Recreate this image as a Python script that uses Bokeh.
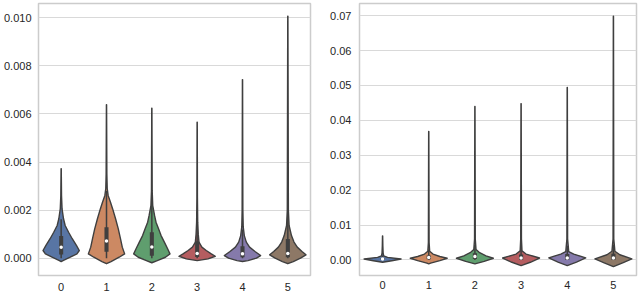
from bokeh.plotting import figure
from bokeh.layouts import row
from bokeh.models import Range1d, FixedTicker, ColumnDataSource
from bokeh.embed import file_html
from bokeh.resources import INLINE

# ---------------- data ----------------
categories = ["0", "1", "2", "3", "4", "5"]
colors = ["#5875a4", "#cc8963", "#5f9e6e", "#b55d60", "#857aab", "#8d7866"]

left_ticks = [0.000, 0.002, 0.004, 0.006, 0.008, 0.010]
left_tick_labels = ["0.000", "0.002", "0.004", "0.006", "0.008", "0.010"]
right_ticks = [0.00, 0.01, 0.02, 0.03, 0.04, 0.05, 0.06, 0.07]
right_tick_labels = ["0.00", "0.01", "0.02", "0.03", "0.04", "0.05", "0.06", "0.07"]

# left panel violin profiles: values and relative half-widths (density shape)
left_values = [
    [-0.00014, -0.0001, 0.00004, 0.00018, 0.00032, 0.00053, 0.00081, 0.00108, 0.00136, 0.00164, 0.00205, 0.0026, 0.00372],
    [-0.00023, -0.00014, 0.00004, 0.00018, 0.00046, 0.00081, 0.00122, 0.00164, 0.00205, 0.00233, 0.00261, 0.0029, 0.0035, 0.00638],
    [-0.00019, -0.0001, 0.00004, 0.00018, 0.00039, 0.00067, 0.00094, 0.00122, 0.0015, 0.00178, 0.00219, 0.0028, 0.00624],
    [-0.0001, -0.00003, 0.00008, 0.00018, 0.00032, 0.00046, 0.00067, 0.001, 0.0015, 0.0025, 0.00566],
    [-0.00014, -0.0001, 0.0, 0.00011, 0.00028, 0.00046, 0.00067, 0.00094, 0.0013, 0.002, 0.00743],
    [-0.00023, -0.00014, 0.0, 0.00014, 0.00028, 0.00046, 0.00067, 0.00094, 0.00136, 0.002, 0.01007],
]
left_widths = [
    [0.0, 0.1, 0.5, 0.87, 1.0, 0.84, 0.61, 0.41, 0.22, 0.13, 0.05, 0.02, 0.005],
    [0.0, 0.25, 0.7, 1.0, 0.87, 0.77, 0.65, 0.5, 0.34, 0.22, 0.09, 0.04, 0.02, 0.005],
    [0.0, 0.3, 0.75, 1.0, 0.87, 0.69, 0.51, 0.37, 0.23, 0.15, 0.05, 0.02, 0.005],
    [0.0, 0.6, 1.0, 0.78, 0.5, 0.26, 0.1, 0.06, 0.03, 0.015, 0.005],
    [0.0, 0.3, 0.77, 1.0, 0.69, 0.39, 0.21, 0.1, 0.04, 0.02, 0.005],
    [0.0, 0.3, 0.7, 1.0, 0.78, 0.52, 0.34, 0.2, 0.07, 0.03, 0.005],
]
left_q1 = [0.00015, 0.00027, 0.00010, 0.00005, 0.00004, 0.00004]
left_median = [0.00045, 0.00072, 0.00047, 0.00020, 0.00018, 0.00020]
left_q3 = [0.00092, 0.00129, 0.00108, 0.00070, 0.00050, 0.00080]
left_whisker_low = [0.0, 0.0, 0.0, 0.0, 0.0, 0.0]
left_whisker_high = [0.00162, 0.00280, 0.00255, 0.00167, 0.00119, 0.00194]

# right panel violin profiles
right_values = [
    [-0.00065, -0.0002, 0.0003, 0.00076, 0.0012, 0.002, 0.004, 0.00686],
    [-0.0011, -0.0009, -0.0002, 0.0005, 0.001, 0.0017, 0.0025, 0.005, 0.0368],
    [-0.0011, -0.0004, 0.0005, 0.0012, 0.0022, 0.003, 0.006, 0.044],
    [-0.0016, -0.00065, 0.00056, 0.0017, 0.0026, 0.006, 0.0448],
    [-0.0016, -0.0006, 0.0006, 0.0017, 0.0024, 0.006, 0.0494],
    [-0.0019, -0.0008, 0.0003, 0.0015, 0.0025, 0.006, 0.0698],
]
right_widths = [
    [0.0, 0.5, 1.0, 0.27, 0.06, 0.03, 0.015, 0.005],
    [0.0, 0.1, 0.6, 1.0, 0.6, 0.23, 0.05, 0.02, 0.005],
    [0.0, 0.5, 1.0, 0.6, 0.23, 0.06, 0.02, 0.005],
    [0.0, 0.5, 1.0, 0.27, 0.05, 0.02, 0.005],
    [0.0, 0.5, 1.0, 0.35, 0.08, 0.02, 0.005],
    [0.0, 0.5, 1.0, 0.35, 0.08, 0.02, 0.005],
]
right_q1 = [0.0001, 0.0002, 0.0003, 0.0001, 0.0001, 0.0001]
right_median = [0.0003, 0.0007, 0.0010, 0.0006, 0.0006, 0.0006]
right_q3 = [0.0006, 0.0013, 0.0019, 0.0016, 0.0017, 0.0018]
right_whisker_low = [0.0, 0.0, 0.0, 0.0, 0.0, 0.0]
right_whisker_high = [0.0013, 0.0030, 0.0043, 0.0039, 0.0041, 0.0043]

# ---------------- styling ----------------
FONT = "Liberation Sans"
EDGE = "#3f3f3f"
HALF = 0.4


def make_panel(values, widths, q1, med, q3, wlo, whi, ticks, tick_labels,
               y_start, y_end, width, mbl, mbr, mbt, mbb, ystand, xstand):
    p = figure(width=width, height=296, output_backend="svg", toolbar_location=None,
               x_range=Range1d(-0.5, 5.5), y_range=Range1d(y_start, y_end),
               min_border_left=mbl, min_border_right=mbr, min_border_top=mbt,
               min_border_bottom=mbb)
    p.background_fill_color = "white"
    p.border_fill_color = "white"
    p.outline_line_color = "#cccccc"
    p.outline_line_width = 1.5

    xs, ys = [], []
    for i, (vals, ws) in enumerate(zip(values, widths)):
        right_side = [i + HALF * w for w in ws]
        left_side = [i - HALF * w for w in reversed(ws)]
        xs.append(right_side + left_side)
        ys.append(list(vals) + list(reversed(vals)))
    src = ColumnDataSource(dict(xs=xs, ys=ys, color=colors))
    p.patches("xs", "ys", source=src, fill_color="color", line_color=EDGE,
              line_width=1.4, line_join="round")

    pos = list(range(len(categories)))
    bsrc = ColumnDataSource(dict(x=pos, q1=q1, q3=q3, med=med, lo=wlo, hi=whi))
    p.segment(x0="x", y0="lo", x1="x", y1="hi", source=bsrc, line_color=EDGE, line_width=1.5)
    p.vbar(x="x", width=0.09, bottom="q1", top="q3", source=bsrc,
           fill_color=EDGE, line_color=None)
    p.scatter(x="x", y="med", source=bsrc, marker="circle", size=3.5,
              fill_color="white", line_color=None)

    p.xaxis.ticker = FixedTicker(ticks=pos)
    p.xaxis.major_label_overrides = {i: c for i, c in enumerate(categories)}
    p.yaxis.ticker = FixedTicker(ticks=ticks)
    p.yaxis.major_label_overrides = {t: l for t, l in zip(ticks, tick_labels)}
    for ax in (p.xaxis, p.yaxis):
        ax.axis_line_color = None
        ax.major_tick_line_color = None
        ax.minor_tick_line_color = None
        ax.major_tick_out = 0
        ax.major_tick_in = 0
        ax.major_label_text_font = FONT
        ax.major_label_text_font_size = "11px"
        ax.major_label_text_color = "#262626"
    p.yaxis.major_label_standoff = ystand
    p.xaxis.major_label_standoff = xstand
    p.xgrid.visible = False
    p.ygrid.grid_line_color = "#d9d9d9"
    p.ygrid.grid_line_width = 1.2
    return p


p1 = make_panel(left_values, left_widths, left_q1, left_median, left_q3,
                left_whisker_low, left_whisker_high, left_ticks, left_tick_labels,
                -0.00072, 0.010595, 320, 36, 10, 3, 21, 7, 7)
p2 = make_panel(right_values, right_widths, right_q1, right_median, right_q3,
                right_whisker_low, right_whisker_high, right_ticks, right_tick_labels,
                -0.00444, 0.07347, 320, 39, 4, 1, 19, 8, 5)

layout = row(p1, p2)
open("out.html", "w").write(file_html(layout, INLINE))
